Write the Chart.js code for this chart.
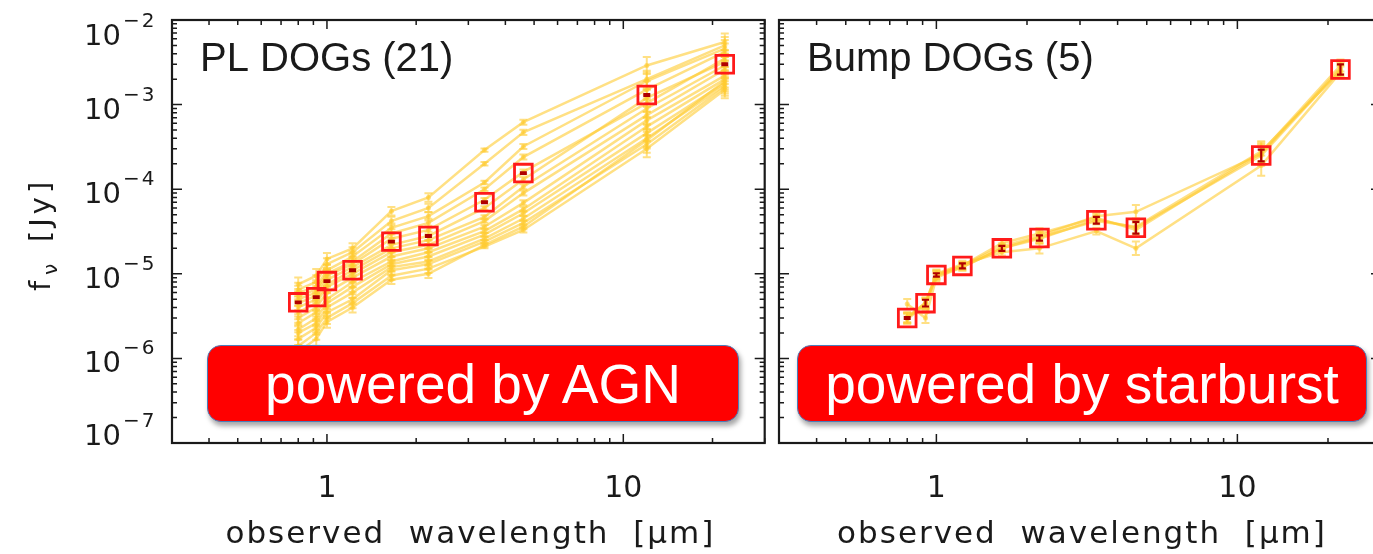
<!DOCTYPE html>
<html>
<head>
<meta charset="utf-8">
<title>DOG SEDs</title>
<script src="https://cdn.jsdelivr.net/npm/chart.js@4"></script>
<style>
  html, body { margin: 0; padding: 0; background: #fff; }
  #wrap { position: relative; width: 1373px; height: 554px; overflow: hidden; }
  #pl { position: absolute; left: 0; top: 0; }
  #bump { position: absolute; left: 700px; top: 0; }
  .tag {
    position: absolute; top: 345px; height: 75px;
    background: #ff0000; border: 1.5px solid #4a7ebb; border-radius: 14px;
    box-shadow: 2px 4px 5px rgba(0, 0, 0, 0.35);
    color: #fff; font: 55px "Liberation Sans", Arial, sans-serif;
    display: flex; align-items: center; justify-content: center;
  }
</style>
</head>
<body>
<div id="wrap">
  <canvas id="pl" width="780" height="554"></canvas>
  <canvas id="bump" width="760" height="554"></canvas>
  <div class="tag" style="left:207px; width:530px;">powered by AGN</div>
  <div class="tag" style="left:797px; width:568px;">powered by starburst</div>
</div>
<script>
// observed bands [micron]
const bands = [0.8, 0.92, 1.0, 1.22, 1.65, 2.2, 3.4, 4.6, 12, 22];

// power-law DOGs: median SED and individual objects [Jy]
const plMedian = [4.6e-6, 5.3e-6, 8.2e-6, 1.1e-5, 2.4e-5, 2.8e-5, 7.0e-5, 1.55e-4, 1.3e-3, 3.0e-3];
const plMedianErr = [0.01, 0.01, 0.01, 0.01, 0.01, 0.01, 0.01, 0.01, 0.01, 0.01];
const plErr = [0.08, 0.08, 0.07, 0.06, 0.05, 0.05, 0.02, 0.03, 0.1, 0.1];
const plSeds = [
  [7.5e-6, 9.5e-6, 1.5e-5, 2.0e-5, 5.5e-5, 8.0e-5, 2.9e-4, 6.2e-4, 2.9e-3, 5.5e-3],
  [6.5e-6, 8.0e-6, 1.3e-5, 1.8e-5, 4.2e-5, 6.0e-5, 2.0e-4, 4.7e-4, 2.0e-3, 5.0e-3],
  [6.0e-6, 7.0e-6, 1.1e-5, 1.6e-5, 3.5e-5, 4.8e-5, 1.2e-4, 3.2e-4, 1.9e-3, 4.6e-3],
  [5.5e-6, 6.5e-6, 1.0e-5, 1.4e-5, 3.0e-5, 4.0e-5, 1.0e-4, 2.4e-4, 1.5e-3, 4.2e-3],
  [5.0e-6, 6.0e-6, 9.5e-6, 1.3e-5, 2.6e-5, 3.3e-5, 7.5e-5, 1.6e-4, 1.04e-3, 3.5e-3],
  [4.5e-6, 5.5e-6, 8.5e-6, 1.2e-5, 2.2e-5, 2.8e-5, 6.0e-5, 1.3e-4, 1.2e-3, 3.2e-3],
  [4.0e-6, 5.0e-6, 7.5e-6, 1.1e-5, 2.0e-5, 2.5e-5, 4.7e-5, 1.07e-4, 9.0e-4, 2.9e-3],
  [3.5e-6, 4.5e-6, 7.0e-6, 1.0e-5, 1.8e-5, 2.2e-5, 4.2e-5, 9.0e-5, 7.5e-4, 2.6e-3],
  [3.0e-6, 4.0e-6, 6.0e-6, 9.0e-6, 1.6e-5, 2.0e-5, 3.6e-5, 6.9e-5, 6.5e-4, 2.2e-3],
  [2.6e-6, 3.5e-6, 5.0e-6, 8.0e-6, 1.4e-5, 1.8e-5, 3.2e-5, 5.8e-5, 5.5e-4, 2.0e-3],
  [2.2e-6, 3.0e-6, 4.5e-6, 7.0e-6, 1.3e-5, 1.6e-5, 2.9e-5, 5.2e-5, 4.6e-4, 1.8e-3],
  [2.0e-6, 2.6e-6, 4.0e-6, 6.0e-6, 1.2e-5, 1.4e-5, 2.6e-5, 4.5e-5, 4.0e-4, 1.7e-3],
  [1.7e-6, 2.3e-6, 3.5e-6, 5.0e-6, 1.1e-5, 1.3e-5, 2.4e-5, 4.0e-5, 3.4e-4, 1.6e-3],
  [1.4e-6, 2.0e-6, 3.0e-6, 4.5e-6, 9.5e-6, 1.15e-5, 2.1e-5, 3.3e-5, 3.0e-4, 1.5e-3],
  [1.2e-6, 1.7e-6, 2.7e-6, 4.0e-6, 8.5e-6, 1.0e-5, 2.2e-5, 3.6e-5, 3.8e-4, 1.9e-3]
];

// bump DOGs
const bumpMedian = [3.0e-6, 4.5e-6, 9.7e-6, 1.24e-5, 2.0e-5, 2.65e-5, 4.3e-5, 3.5e-5, 2.5e-4, 2.6e-3];
const bumpMedianErr = [0.01, 0.04, 0.02, 0.03, 0.03, 0.03, 0.04, 0.07, 0.07, 0.06];
const bumpErr = [0.06, 0.06, 0.05, 0.04, 0.04, 0.06, 0.04, 0.08, 0.12, 0.07];
const bumpSeds = [
  [3.0e-6, 4.6e-6, 9.8e-6, 1.25e-5, 2.1e-5, 2.8e-5, 4.8e-5, 5.4e-5, 2.6e-4, 2.7e-3],
  [2.9e-6, 4.3e-6, 9.4e-6, 1.2e-5, 2.0e-5, 2.6e-5, 4.4e-5, 3.5e-5, 2.5e-4, 2.6e-3],
  [3.1e-6, 4.5e-6, 1.0e-5, 1.3e-5, 1.8e-5, 2.0e-5, 3.2e-5, 2.0e-5, 1.9e-4, 2.4e-3],
  [3.0e-6, 4.4e-6, 9.6e-6, 1.25e-5, 2.3e-5, 3.0e-5, 4.6e-5, 3.3e-5, 2.7e-4, 2.9e-3],
  [4.4e-6, 3.0e-6, 9.0e-6, 1.2e-5, 2.0e-5, 2.7e-5, 4.2e-5, 3.6e-5, 2.8e-4, 2.5e-3]
];

// axis ticks
const xMajor = [1, 10];
const xLabels = ['1', '10'];
const xMinor = [0.3, 0.4, 0.5, 0.6, 0.7, 0.8, 0.9, 2, 3, 4, 5, 6, 7, 8, 9, 20, 30];
const yDecades = [-7, -6, -5, -4, -3, -2];
const xTitle = 'observed  wavelength  [\u03bcm]';

const ink = '#1a1a1a';
const sedColor = 'rgba(255, 203, 50, 0.6)';

function toPoints(vals) {
  return bands.map((b, i) => ({ x: b, y: vals[i] }));
}

function buildDatasets(median, medErr, seds, err) {
  const sets = [{
    data: toPoints(median),
    errDex: medErr, errColor: '#b00000', errWidth: 2.2, capHalf: 3.5,
    showLine: false,
    pointStyle: 'rect', pointRadius: 12.5,
    borderColor: '#ff1a1a', borderWidth: 2.8,
    pointBackgroundColor: 'rgba(255,255,255,0)'
  }];
  seds.forEach(s => sets.push({
    data: toPoints(s),
    errDex: err, errColor: sedColor, errWidth: 2, capHalf: 4,
    showLine: true,
    borderColor: sedColor, borderWidth: 2.5,
    pointRadius: 2.5, pointBackgroundColor: sedColor, pointBorderWidth: 0
  }));
  return sets;
}

const frame = {
  id: 'frame',
  afterDatasetDraw(chart, args) {
    const ds = chart.data.datasets[args.index];
    if (!ds.errDex) return;
    const { ctx, chartArea: a, scales: { x, y } } = chart;
    ctx.save();
    ctx.beginPath();
    ctx.rect(a.left, a.top, a.right - a.left, a.bottom - a.top);
    ctx.clip();
    ctx.strokeStyle = ds.errColor;
    ctx.lineWidth = ds.errWidth;
    ds.data.forEach((p, i) => {
      const f = Math.pow(10, ds.errDex[i]);
      const px = x.getPixelForValue(p.x);
      const y1 = y.getPixelForValue(p.y * f);
      const y2 = y.getPixelForValue(p.y / f);
      const c = ds.capHalf;
      ctx.beginPath();
      ctx.moveTo(px, y1); ctx.lineTo(px, y2);
      ctx.moveTo(px - c, y1); ctx.lineTo(px + c, y1);
      ctx.moveTo(px - c, y2); ctx.lineTo(px + c, y2);
      ctx.stroke();
    });
    ctx.restore();
  },
  afterDraw(chart, args, opts) {
    const { ctx, chartArea: a, scales: { x, y } } = chart;
    ctx.save();
    ctx.strokeStyle = ink;
    ctx.fillStyle = ink;

    // inward ticks on all four sides
    ctx.lineWidth = 1.5;
    ctx.beginPath();
    const xt = (v, len) => {
      const px = x.getPixelForValue(v);
      ctx.moveTo(px, a.bottom); ctx.lineTo(px, a.bottom - len);
      ctx.moveTo(px, a.top); ctx.lineTo(px, a.top + len);
    };
    const yt = (v, len) => {
      const py = y.getPixelForValue(v);
      ctx.moveTo(a.left, py); ctx.lineTo(a.left + len, py);
      ctx.moveTo(a.right, py); ctx.lineTo(a.right - len, py);
    };
    xMajor.forEach(v => xt(v, 9));
    xMinor.forEach(v => xt(v, 5));
    yDecades.forEach(d => {
      yt(Math.pow(10, d), 10);
      if (d < -2) for (let m = 2; m <= 9; m++) yt(m * Math.pow(10, d), 5);
    });
    ctx.stroke();

    ctx.lineWidth = 2.2;
    ctx.strokeRect(a.left, a.top, a.right - a.left, a.bottom - a.top);

    // x tick labels and title
    ctx.textAlign = 'center';
    ctx.textBaseline = 'alphabetic';
    ctx.font = '30px "DejaVu Sans"';
    xMajor.forEach((v, i) => ctx.fillText(xLabels[i], x.getPixelForValue(v), 497));
    ctx.font = '31px "DejaVu Sans"';
    ctx.letterSpacing = '2px';
    ctx.fillText(xTitle, (a.left + a.right) / 2 + 2, 543);
    ctx.letterSpacing = '0px';

    // panel name
    ctx.textAlign = 'left';
    ctx.font = '40px "Liberation Sans"';
    ctx.fillText(opts.title, a.left + 28, 71);

    if (opts.yLabels) {
      yDecades.forEach(d => {
        const py = y.getPixelForValue(Math.pow(10, d));
        const base = Math.min(Math.max(py + 14, a.top + 25), a.bottom + 2);
        ctx.font = '29px "DejaVu Sans"';
        ctx.textAlign = 'right';
        ctx.fillText('10', a.left - 51, base);
        ctx.font = '20px "DejaVu Sans"';
        ctx.textAlign = 'left';
        ctx.letterSpacing = '2px';
        ctx.fillText('\u2212' + (-d), a.left - 49, base - 18);
        ctx.letterSpacing = '0px';
      });

      // y title: f_nu [Jy]
      ctx.save();
      ctx.translate(50, 291);
      ctx.rotate(-Math.PI / 2);
      ctx.textAlign = 'left';
      ctx.font = '29px "DejaVu Sans"';
      ctx.fillText('f', 0, 0);
      ctx.font = '20px "DejaVu Sans"';
      ctx.fillText('\u03bd', 16, 7);
      ctx.font = '29px "DejaVu Sans"';
      ctx.letterSpacing = '4px';
      ctx.fillText('[Jy]', 49, 0);
      ctx.restore();
    }
    ctx.restore();
  }
};

function makeChart(id, datasets, padding, opts) {
  return new Chart(document.getElementById(id), {
    type: 'scatter',
    data: { datasets: datasets },
    options: {
      responsive: false,
      animation: false,
      layout: { padding: padding },
      scales: {
        x: { type: 'logarithmic', min: 0.3, max: 30, display: false },
        y: { type: 'logarithmic', min: 1e-7, max: 1e-2, display: false }
      },
      plugins: {
        legend: { display: false },
        tooltip: { enabled: false },
        frame: opts
      }
    },
    plugins: [frame]
  });
}

makeChart('pl', buildDatasets(plMedian, plMedianErr, plSeds, plErr),
  { left: 172, right: 7, top: 20, bottom: 111 },
  { title: 'PL DOGs (21)', yLabels: true });

makeChart('bump', buildDatasets(bumpMedian, bumpMedianErr, bumpSeds, bumpErr),
  { left: 79, right: 79, top: 20, bottom: 111 },
  { title: 'Bump DOGs (5)', yLabels: false });
</script>
</body>
</html>
